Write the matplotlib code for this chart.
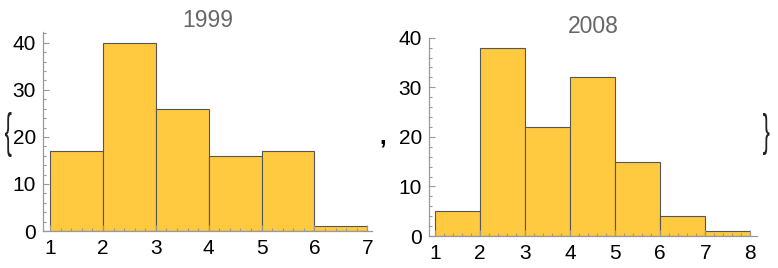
import matplotlib.pyplot as plt
from matplotlib.ticker import MultipleLocator
from matplotlib.textpath import TextPath
from matplotlib.patches import PathPatch
from matplotlib.font_manager import FontProperties
from matplotlib.transforms import Affine2D, IdentityTransform

plt.rcParams['font.family'] = ['Liberation Sans', 'DejaVu Sans']

edges_1999 = [1, 2, 3, 4, 5, 6, 7]
counts_1999 = [17, 40, 26, 16, 17, 1]
edges_2008 = [1, 2, 3, 4, 5, 6, 7, 8]
counts_2008 = [5, 38, 22, 32, 15, 4, 1]

fill = '#FFCA40'
edge = '#555555'
axcol = '#999999'

fig = plt.figure(figsize=(7.78, 2.68), dpi=100)


def histo(rect, edges, counts, title, xlim, ylim):
    ax = fig.add_axes(rect)
    ax.hist(edges[:-1], bins=edges, weights=counts, color=fill,
            edgecolor=edge, linewidth=0.8)
    ax.set_xlim(*xlim)
    ax.set_ylim(*ylim)
    for s in ['top', 'right']:
        ax.spines[s].set_visible(False)
    for s in ['left', 'bottom']:
        ax.spines[s].set_color(axcol)
        ax.spines[s].set_linewidth(0.9)
    ax.xaxis.set_major_locator(MultipleLocator(1))
    ax.xaxis.set_minor_locator(MultipleLocator(0.2))
    ax.yaxis.set_major_locator(MultipleLocator(10))
    ax.yaxis.set_minor_locator(MultipleLocator(2))
    ax.tick_params(which='both', direction='in', color=axcol, width=0.8,
                   labelsize=15, labelcolor='black')
    ax.tick_params(which='major', length=4)
    ax.tick_params(which='minor', length=2)
    ax.tick_params(axis='x', which='major', pad=6)
    ax.tick_params(axis='y', which='major', pad=5)
    ax.set_title(title, fontsize=16.5, color='#666666', pad=3)
    return ax


histo([0.0553, 0.138, 0.4229, 0.7425], edges_1999, counts_1999, '1999',
      (0.867, 7.09), (0, 42.3))
histo([0.5514, 0.1194, 0.4216, 0.740], edges_2008, counts_2008, '2008',
      (0.867, 8.15), (0, 40))


def brace(ch, x0, x1, y0, y1):
    # glyph stretched into a pixel box (origin bottom-left)
    p = TextPath((0, 0), ch, size=40, prop=FontProperties(family='Liberation Sans'))
    ext = p.get_extents()
    t = (Affine2D().translate(-ext.x0, -ext.y0)
         .scale((x1 - x0) / ext.width, (y1 - y0) / ext.height)
         .translate(x0, y0))
    fig.patches.append(PathPatch(t.transform_path(p), transform=IdentityTransform(),
                                 facecolor='#222222', edgecolor='none'))


brace('{', 5, 11.5, 111, 156)
brace('}', 763, 769.5, 113, 155)
fig.text(0.492, 0.49, ',', fontsize=17, ha='center', va='center',
         fontweight='bold')

fig.savefig('out.png', dpi=100)
